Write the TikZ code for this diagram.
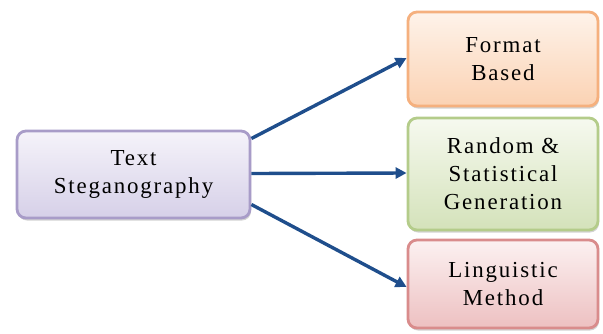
\documentclass[tikz,border=0pt]{standalone}
\usepackage{fontspec}
\setmainfont{Liberation Serif}
\newfontfamily\boxfont[LetterSpace=8]{Liberation Serif}
\usetikzlibrary{arrows.meta,shadows}
\definecolor{lavB}{HTML}{A89CC8}
\definecolor{lavT}{HTML}{F5F3FA}
\definecolor{lavF}{HTML}{D6D0E8}
\definecolor{orB}{HTML}{F5B07E}
\definecolor{orT}{HTML}{FEF3EA}
\definecolor{orF}{HTML}{FBD2B3}
\definecolor{grB}{HTML}{B4CC8A}
\definecolor{grT}{HTML}{F6F9EF}
\definecolor{grF}{HTML}{D4E2BA}
\definecolor{rdB}{HTML}{D98C8C}
\definecolor{rdT}{HTML}{FCF1F1}
\definecolor{rdF}{HTML}{EDC0C1}
\definecolor{arr}{HTML}{1F4E8C}
\tikzset{
  box/.style={draw, line width=2.8bp, rounded corners=9bp, align=center,
    font=\boxfont\fontsize{23}{28}\selectfont, inner sep=0pt, text=black,
    drop shadow={shadow xshift=1bp, shadow yshift=-2.5bp, opacity=0.35, fill=gray}},
  conn/.style={draw=arr, line width=3.4bp, -{Triangle[length=11bp,width=11bp]}}
}
\begin{document}
\begin{tikzpicture}[x=1bp,y=-1bp]
\useasboundingbox (0,0) rectangle (603,333);
\node[box, draw=lavB, top color=lavT, bottom color=lavF,
  minimum width=233bp, minimum height=87bp] (src) at (133.5,174.5) {Text\\Steganography};
\node[box, draw=orB, top color=orT, bottom color=orF,
  minimum width=190bp, minimum height=94bp] (fmt) at (503,59) {Format\\Based};
\node[box, draw=grB, top color=grT, bottom color=grF,
  minimum width=190bp, minimum height=112bp] (rnd) at (503,174) {Random \&\\Statistical\\Generation};
\node[box, draw=rdB, top color=rdT, bottom color=rdF,
  minimum width=190bp, minimum height=88bp] (ling) at (503,284) {Linguistic\\Method};
\draw[conn] ([yshift=36bp]src.east) -- ([yshift=1bp]fmt.west);
\draw[conn] ([yshift=1bp]src.east) -- ([yshift=1bp]fmt.west |- rnd.west);
\draw[conn] ([yshift=-30bp]src.east) -- ([yshift=-3bp]ling.west);
\end{tikzpicture}
\end{document}
